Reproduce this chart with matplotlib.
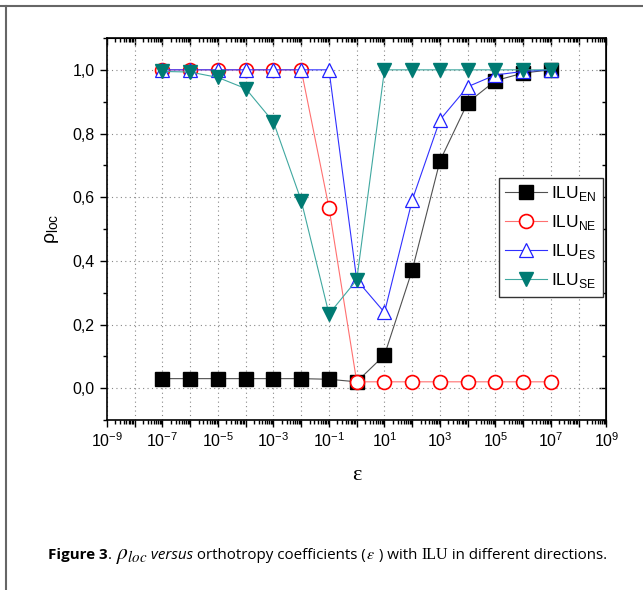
import numpy as np
import matplotlib
matplotlib.use('Agg')
import matplotlib.pyplot as plt
from matplotlib.lines import Line2D
from matplotlib import ticker

plt.rcParams['font.family'] = ['Liberation Sans', 'DejaVu Sans']

# orthotropy coefficient epsilon, 1e-7 .. 1e7
eps = [1e-7, 1e-6, 1e-5, 1e-4, 1e-3, 1e-2, 1e-1, 1e0, 1e1, 1e2, 1e3, 1e4, 1e5, 1e6, 1e7]

ilu_en = [0.030, 0.030, 0.030, 0.030, 0.030, 0.030, 0.028, 0.020, 0.104, 0.371, 0.714, 0.897, 0.966, 0.990, 1.000]
ilu_ne = [1.000, 1.000, 1.000, 1.000, 1.000, 1.000, 0.567, 0.020, 0.020, 0.020, 0.020, 0.020, 0.020, 0.020, 0.020]
ilu_es = [1.000, 1.000, 1.000, 1.000, 1.000, 1.000, 1.000, 0.340, 0.238, 0.591, 0.843, 0.947, 0.984, 0.995, 1.000]
ilu_se = [0.995, 0.993, 0.976, 0.941, 0.836, 0.589, 0.233, 0.340, 1.000, 1.000, 1.000, 1.000, 1.000, 1.000, 1.000]

fig = plt.figure(figsize=(6.43, 5.9), dpi=100)
ax = fig.add_axes([0.1664, 0.2881, 0.7768, 0.6475])

ax.plot(eps, ilu_en, color='#505050', lw=0.8, marker='s', ms=9.5,
        mfc='black', mec='black', label=r'ILU$_{\mathdefault{EN}}$')
ax.plot(eps, ilu_ne, color='#ff7070', lw=0.8, marker='o', ms=10,
        mfc='white', mec='#ff0000', mew=1.2, label=r'ILU$_{\mathdefault{NE}}$')
ax.plot(eps, ilu_es, color='#3030ff', lw=0.8, marker='^', ms=10,
        mfc='white', mec='#2020ff', mew=0.9, label=r'ILU$_{\mathdefault{ES}}$')
ax.plot(eps, ilu_se, color='#40a8a0', lw=0.8, marker='v', ms=10,
        mfc='#007b73', mec='#007b73', label=r'ILU$_{\mathdefault{SE}}$')

ax.set_xscale('log')
ax.set_xlim(1e-9, 1e9)
ax.set_ylim(-0.1, 1.1)

ax.xaxis.set_major_locator(ticker.LogLocator(base=10, numticks=30))
ax.xaxis.set_minor_locator(ticker.LogLocator(base=10, subs=np.arange(2, 10), numticks=30))

def fmt_x(v, pos):
    e = int(round(np.log10(v)))
    if e % 2 == 0:
        return ''
    return r'$\mathdefault{10^{%d}}$' % e

ax.xaxis.set_major_formatter(ticker.FuncFormatter(fmt_x))
ax.yaxis.set_major_locator(ticker.MultipleLocator(0.2))
ax.yaxis.set_minor_locator(ticker.MultipleLocator(0.1))
ax.yaxis.set_major_formatter(ticker.FuncFormatter(lambda v, p: ('%.1f' % v).replace('.', ',')))

ax.tick_params(which='both', direction='out', top=False, right=False, labelsize=11.5, width=1)
ax.tick_params(which='major', length=5)
ax.tick_params(which='minor', length=3)
ax.tick_params(axis='y', pad=4)
ax.tick_params(axis='x', pad=3)

# mirrored top/right ticks pointing inward
axt = ax.secondary_xaxis('top')
axt.xaxis.set_major_locator(ticker.LogLocator(base=10, numticks=30))
axt.xaxis.set_minor_locator(ticker.LogLocator(base=10, subs=np.arange(2, 10), numticks=30))
axt.tick_params(which='both', direction='in', labeltop=False, width=1)
axt.tick_params(which='major', length=5)
axt.tick_params(which='minor', length=3)
axr = ax.secondary_yaxis('right')
axr.yaxis.set_major_locator(ticker.MultipleLocator(0.2))
axr.yaxis.set_minor_locator(ticker.MultipleLocator(0.1))
axr.tick_params(which='both', direction='in', labelright=False, width=1)
axr.tick_params(which='major', length=5)
axr.tick_params(which='minor', length=3)

for s in ax.spines.values():
    s.set_linewidth(1.2)

ax.grid(True, which='major', linestyle=(0, (1, 3)), color='#888888', lw=0.8)

ax.set_ylabel('ρ$_{\\mathdefault{loc}}$', fontsize=14, labelpad=8)
ax.set_xlabel('ε', fontsize=16, family='Liberation Serif', labelpad=12)

leg = ax.legend(loc='upper right', bbox_to_anchor=(0.993, 0.633), borderaxespad=0,
                fontsize=12.5, fancybox=False, framealpha=1, edgecolor='#333333',
                handlelength=2.4, handletextpad=0.25, labelspacing=0.58, borderpad=0.35)
leg.get_frame().set_linewidth(1.0)

# page frame lines
fig.add_artist(Line2D([0, 1], [1 - 6 / 590, 1 - 6 / 590], color='#666666', lw=1.5))
fig.add_artist(Line2D([6 / 643, 6 / 643], [0, 1 - 6 / 590], color='#666666', lw=1.5))

# caption built from pieces
fig.canvas.draw()
r = fig.canvas.get_renderer()
cap_y = 1 - 559 / 590
pieces = [
    ('Figure 3', dict(family='Open Sans', weight='bold')),
    ('. ', dict(family='Open Sans')),
    (r'$\rho_{loc}$', dict(family='Open Sans', math_fontfamily='stix', fontsize=15.5)),
    (' versus', dict(family='Open Sans', style='italic')),
    (' orthotropy coefficients (', dict(family='Open Sans')),
    (r'$\varepsilon$', dict(family='Open Sans', math_fontfamily='stix', fontsize=11.5)),
    (' ) with ', dict(family='Open Sans')),
    ('ILU', dict(family='Liberation Serif', fontsize=11.5)),
    (' in different directions.', dict(family='Open Sans')),
]
x = 48 / 643
for txt, kw in pieces:
    kw.setdefault('fontsize', 10.9)
    t = fig.text(x, cap_y, txt, va='baseline', ha='left', **kw)
    bb = t.get_window_extent(renderer=r)
    x += bb.width / fig.bbox.width

fig.savefig('out.png', dpi=100)
